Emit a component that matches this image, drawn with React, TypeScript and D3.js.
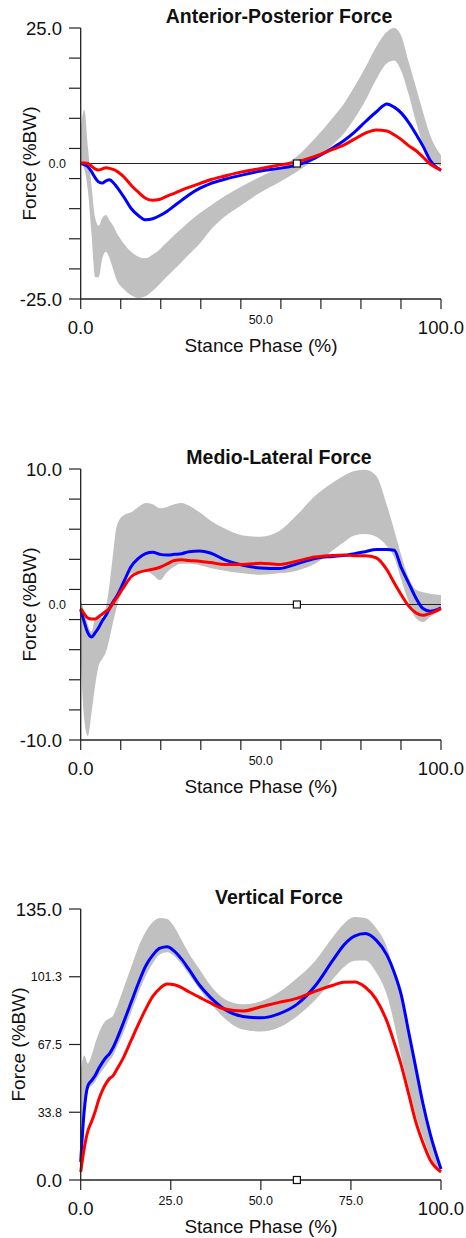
import React from "react";
import * as d3 from "d3";

// stance phase sample points (%), shared by all three panels
const stance = [0, 1, 2, 3, 4, 5, 6, 7, 8, 9, 10, 12, 14, 16, 18, 20, 22, 24, 26, 28, 30, 33, 36, 40, 45, 50, 55, 60, 65, 70, 73, 76, 79, 82, 85, 87, 89, 91, 93, 95, 97, 100];

// anterior-posterior force (%BW)
const apBlue = [0, -0.2, -0.6, -1.5, -2.6, -3.4, -3.6, -3.2, -3.0, -3.5, -4.3, -6.2, -8.3, -9.6, -10.4, -10.2, -9.6, -8.8, -7.8, -6.8, -5.8, -4.6, -3.7, -2.9, -2.1, -1.4, -0.9, -0.3, 1.0, 2.9, 4.2, 5.8, 7.7, 9.5, 11.0, 10.4, 9.3, 7.6, 5.5, 3.2, 0.6, -1.3];
const apRed = [0.1, 0.1, 0, -0.5, -1.0, -1.2, -1.0, -0.8, -0.9, -1.1, -1.4, -2.5, -4.0, -5.3, -6.4, -6.8, -6.6, -6.0, -5.5, -4.9, -4.4, -3.7, -3.0, -2.3, -1.5, -0.9, -0.3, 0.3, 1.3, 2.6, 3.4, 4.5, 5.6, 6.2, 6.0, 5.3, 4.4, 3.3, 2.4, 1.2, -0.1, -1.2];
const apUpper = [6.5, 9.9, 3, -4, -10, -11.5, -10, -9.5, -10.5, -11.5, -12.8, -14.8, -16.3, -17.2, -17.5, -16.8, -15.8, -14.5, -13.2, -12, -10.8, -9.2, -7.8, -6, -4.1, -2.4, -0.8, 1.3, 4.6, 8.5, 11.0, 14.2, 17.7, 21.5, 24.3, 25, 23.5, 18.8, 14.2, 9.5, 5.2, 1.5];
const apLower = [0, -1, -5, -13, -21, -21, -17.5, -16.3, -17.5, -19.5, -21.5, -23.2, -24.3, -24.8, -24.5, -23.5, -22.2, -20.8, -19.5, -18.2, -16.8, -14.8, -12.3, -9.8, -7.5, -5.3, -3.5, -1.5, 0.8, 3.5, 5.5, 8.3, 11.6, 15.5, 18.5, 19, 17, 12.8, 7.8, 3.5, 0.8, -0.5];

// medio-lateral force (%BW)
const mlBlue = [-0.4, -1.3, -2.1, -2.4, -2.1, -1.7, -1.2, -0.8, -0.3, 0.2, 0.6, 1.7, 2.8, 3.4, 3.75, 3.85, 3.7, 3.65, 3.7, 3.75, 3.9, 3.95, 3.8, 3.3, 2.9, 2.7, 2.65, 3.0, 3.4, 3.55, 3.62, 3.75, 3.9, 4.05, 4.05, 4.0, 2.7, 1.6, 0.5, -0.3, -0.5, -0.25];
const mlRed = [-0.3, -0.7, -1.0, -1.07, -1.07, -0.9, -0.7, -0.5, -0.3, 0.1, 0.5, 1.3, 2.05, 2.35, 2.5, 2.6, 2.75, 3.0, 3.25, 3.3, 3.25, 3.2, 3.1, 2.95, 2.95, 3.05, 2.95, 3.2, 3.5, 3.62, 3.65, 3.6, 3.6, 3.45, 2.55, 1.6, 0.7, -0.1, -0.6, -0.8, -0.65, -0.3];
const mlUpper = [0.3, -0.5, -1.5, -2.0, -1.0, -0.8, -1.0, -0.2, 1.5, 3.8, 5.8, 6.6, 6.8, 7.2, 7.5, 7.4, 7.1, 7.2, 7.4, 7.5, 7.3, 6.8, 6.2, 5.6, 5.1, 5.0, 5.4, 6.6, 8.0, 9.0, 9.5, 9.85, 9.95, 9.5, 7.3, 5.5, 3.6, 2.0, 1.1, 0.9, 0.8, 0.7];
const mlLower = [-4, -8.5, -9.7, -8, -6, -4.5, -4.0, -3.5, -2.5, -1.3, -0.2, 1.3, 2.3, 2.4, 2.5, 2.2, 1.8, 2.4, 2.8, 3.0, 3.0, 2.9, 2.7, 2.5, 2.3, 2.2, 2.3, 2.5, 3.0, 4.0, 4.6, 5.1, 5.2, 5.0, 4.3, 3.5, 1.8, 0.2, -1.0, -1.3, -0.9, -0.4];

// vertical force (%BW)
const vtBlue = [9, 35, 47, 49.5, 52, 55.5, 58.5, 61, 63, 66, 70, 79, 88.5, 98, 106.5, 112, 115.5, 116.2, 114, 110, 105, 97, 91, 85, 81.5, 80.8, 82.8, 87.5, 96.5, 109.5, 117, 121.5, 122.8, 119.5, 112, 103.5, 92, 74, 56, 38, 23, 5.5];
const vtRed = [4, 16, 24.5, 29, 34, 40, 44.5, 48, 50.5, 52, 55, 61.5, 69.5, 77.5, 85, 91.5, 95.5, 97.6, 97.3, 95.8, 93.8, 91, 88.2, 85.2, 84.2, 86.3, 88.5, 90.5, 94, 97, 98.5, 98.6, 96, 90, 79, 68.5, 57, 43, 29, 18.5, 10, 4];
const vtUpper = [55, 62, 58, 62, 68, 73, 77, 79.5, 80.5, 82, 86, 96, 106, 116, 123.5, 128.5, 130.5, 130, 126, 119.5, 113, 105, 97, 90, 87.5, 89, 93.5, 100.5, 109, 121, 127.5, 131, 130.5, 125.5, 116, 104, 93, 75, 56.5, 39, 24, 6];
const vtLower = [8, 30, 45, 47, 49, 52, 54.5, 57, 59.5, 62, 66, 74, 83.5, 93, 101.5, 108, 112.5, 113.5, 111.5, 107.5, 102.5, 95, 88, 80.5, 75, 74, 76, 81.5, 89.5, 100, 106, 109.2, 109.3, 103.5, 92, 78, 61, 46, 32, 21.5, 12, 3.5];

const apYTicks = d3.range(10).map((i) => -25 + (i * 50) / 9);
const mlYTicks = d3.range(10).map((i) => -10 + (i * 20) / 9);
const vtYTicks = [0, 33.75, 67.5, 101.25, 135];
const nineXTicks = d3.range(10).map((i) => (i * 100) / 9);
const vtXTicks = [0, 25, 50, 75, 100];

const apYLabels = [{ v: 25, t: "25.0", big: true }, { v: 0, t: "0.0", big: false }, { v: -25, t: "-25.0", big: true }];
const mlYLabels = [{ v: 10, t: "10.0", big: true }, { v: 0, t: "0.0", big: false }, { v: -10, t: "-10.0", big: true }];
const vtYLabels = [{ v: 135, t: "135.0", big: true }, { v: 101.25, t: "101.3", big: false }, { v: 67.5, t: "67.5", big: false }, { v: 33.75, t: "33.8", big: false }, { v: 0, t: "0.0", big: true }];
const fiveXLabels = [{ v: 0, t: "0.0", big: true }, { v: 50, t: "50.0", big: false }, { v: 100, t: "100.0", big: true }];
const vtXLabels = [{ v: 0, t: "0.0", big: true }, { v: 25, t: "25.0", big: false }, { v: 50, t: "50.0", big: false }, { v: 75, t: "75.0", big: false }, { v: 100, t: "100.0", big: true }];

const FONT = "'Liberation Sans', Arial, sans-serif";
const X0 = 80.7;
const X1 = 441;
const PH = 271;

type Lbl = { v: number; t: string; big: boolean };

function Panel(props: {
  top: number;
  title: string;
  domain: [number, number];
  yTicks: number[];
  yLabels: Lbl[];
  xTicks: number[];
  xLabels: Lbl[];
  upper: number[];
  lower: number[];
  blue: number[];
  red: number[];
  zeroLine: boolean;
  smallLabelX: number;
  yTitleX: number;
}) {
  const { top } = props;
  const x = d3.scaleLinear().domain([0, 100]).range([X0, X1]);
  const y = d3.scaleLinear().domain(props.domain).range([top + PH, top]);
  const bottom = top + PH;

  const band = d3
    .area<number>()
    .x((d) => x(d))
    .y0((_, i) => y(props.lower[i]))
    .y1((_, i) => y(props.upper[i]))
    .curve(d3.curveMonotoneX);
  const line = (vals: number[]) =>
    d3
      .line<number>()
      .x((_, i) => x(stance[i]))
      .y((d) => y(d))
      .curve(d3.curveMonotoneX)(vals) || "";

  return (
    <g>
      <text x={279} y={top - 5} textAnchor="middle" fontFamily={FONT} fontWeight="bold" fontSize={19.5} fill="#111">
        {props.title}
      </text>
      <path d={band(stance) || ""} fill="#c0c0c0" />
      {props.zeroLine && <line x1={X0} x2={X1} y1={y(0)} y2={y(0)} stroke="#222" strokeWidth={1.2} />}
      <path d={line(props.blue)} fill="none" stroke="#0000ff" strokeWidth={3} strokeLinejoin="round" />
      <path d={line(props.red)} fill="none" stroke="#ff0000" strokeWidth={3} strokeLinejoin="round" />

      {/* axes */}
      <line x1={X0} x2={X0} y1={top} y2={bottom} stroke="#222" strokeWidth={1.3} />
      <line x1={X0} x2={X1} y1={bottom} y2={bottom} stroke="#222" strokeWidth={1.3} />
      {props.yTicks.map((t, i) => (
        <line key={"yt" + i} x1={69} x2={X0} y1={y(t)} y2={y(t)} stroke="#222" strokeWidth={1.2} />
      ))}
      {props.xTicks.map((t, i) => (
        <line key={"xt" + i} x1={x(t)} x2={x(t)} y1={bottom} y2={bottom + 10} stroke="#222" strokeWidth={1.2} />
      ))}
      {props.yLabels.map((l) => (
        <text
          key={"yl" + l.t}
          x={l.big ? 62 : props.smallLabelX}
          y={y(l.v) + (l.big ? 6.5 : 4.5)}
          textAnchor="end"
          fontFamily={FONT}
          fontSize={l.big ? 18.5 : 12.5}
          fill="#111"
        >
          {l.t}
        </text>
      ))}
      {props.xLabels.map((l) => (
        <text
          key={"xl" + l.t}
          x={x(l.v)}
          y={bottom + (l.big ? 34.5 : 25)}
          textAnchor="middle"
          fontFamily={FONT}
          fontSize={l.big ? 18.5 : 12.5}
          fill="#111"
        >
          {l.t}
        </text>
      ))}
      <text x={261} y={bottom + 53} textAnchor="middle" fontFamily={FONT} fontSize={19} fill="#111">
        Stance Phase (%)
      </text>
      <text
        transform={`translate(${props.yTitleX},${top + PH / 2}) rotate(-90)`}
        textAnchor="middle"
        dy="0.35em"
        fontFamily={FONT}
        fontSize={19}
        fill="#111"
      >
        Force (%BW)
      </text>
      <rect x={x(60) - 3.5} y={y(0) - 3.5} width={7} height={7} fill="#fff" stroke="#111" strokeWidth={1.2} />
    </g>
  );
}

export default function App() {
  return (
    <svg width={466} height={1238} style={{ position: "absolute", left: 0, top: 0, background: "#fff" }}>
      <Panel
        top={28}
        title="Anterior-Posterior Force"
        domain={[-25, 25]}
        yTicks={apYTicks}
        yLabels={apYLabels}
        xTicks={nineXTicks}
        xLabels={fiveXLabels}
        upper={apUpper}
        lower={apLower}
        blue={apBlue}
        red={apRed}
        zeroLine={true}
        smallLabelX={66}
        yTitleX={29}
      />
      <Panel
        top={469}
        title="Medio-Lateral Force"
        domain={[-10, 10]}
        yTicks={mlYTicks}
        yLabels={mlYLabels}
        xTicks={nineXTicks}
        xLabels={fiveXLabels}
        upper={mlUpper}
        lower={mlLower}
        blue={mlBlue}
        red={mlRed}
        zeroLine={true}
        smallLabelX={66}
        yTitleX={29}
      />
      <Panel
        top={909}
        title="Vertical Force"
        domain={[0, 135]}
        yTicks={vtYTicks}
        yLabels={vtYLabels}
        xTicks={vtXTicks}
        xLabels={vtXLabels}
        upper={vtUpper}
        lower={vtLower}
        blue={vtBlue}
        red={vtRed}
        zeroLine={false}
        smallLabelX={62}
        yTitleX={18}
      />
    </svg>
  );
}
